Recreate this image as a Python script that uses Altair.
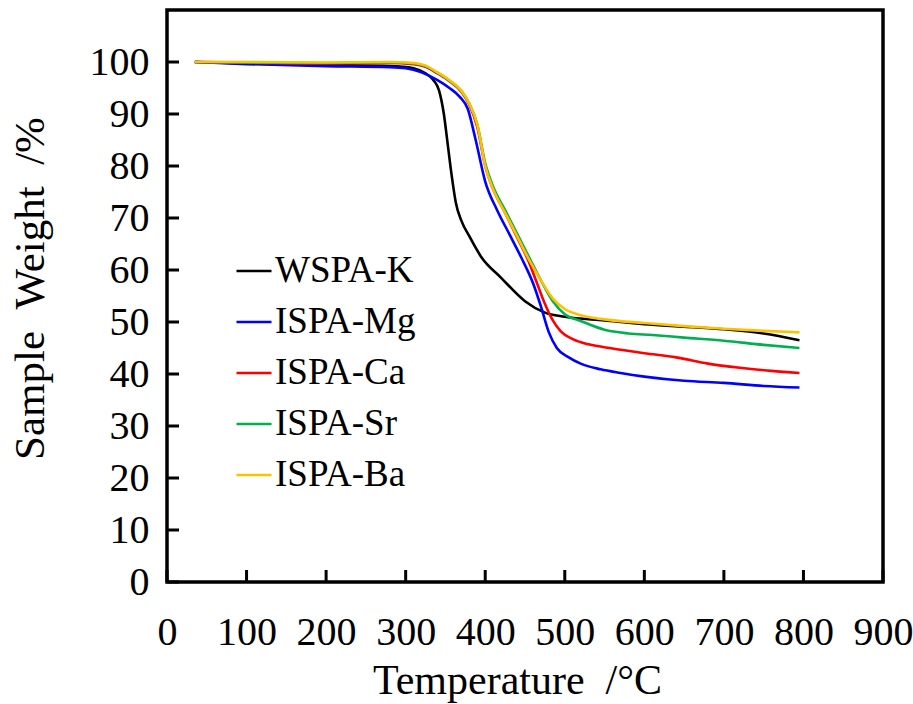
import altair as alt
import pandas as pd

series_names = ["WSPA-K", "ISPA-Mg", "ISPA-Ca", "ISPA-Sr", "ISPA-Ba"]
series_colors = ["#000000", "#0000FF", "#FF0000", "#00B050", "#FFC000"]

k_t = [35, 100, 200, 280, 310, 325, 335, 342, 348, 353, 358, 363, 370, 380, 395, 420, 450, 475, 500, 550, 600, 650, 700, 750, 795]
k_w = [100, 99.7, 99.4, 99.2, 98.8, 97.8, 96.5, 94.5, 90, 84, 78, 73, 69.5, 66.5, 62.5, 58.5, 54, 51.8, 51, 50.3, 49.6, 49.1, 48.6, 47.8, 46.5]

mg_t = [35, 100, 200, 280, 300, 320, 340, 355, 368, 378, 388, 400, 415, 430, 445, 460, 470, 480, 490, 505, 520, 545, 570, 600, 650, 700, 750, 795]
mg_w = [100, 99.6, 99.2, 99.0, 98.8, 98, 96.5, 95, 93.3, 91, 85, 77, 71.5, 67, 62.5, 57.5, 53, 48, 45, 43.2, 42, 40.9, 40.2, 39.5, 38.7, 38.3, 37.7, 37.4]

ca_t = [35, 100, 200, 280, 310, 325, 340, 355, 370, 380, 390, 400, 410, 425, 440, 455, 465, 475, 485, 495, 510, 530, 560, 600, 640, 680, 720, 760, 795]
ca_w = [100, 99.9, 99.7, 99.8, 99.6, 99.1, 97.8, 96.3, 94.3, 91.8, 87.5, 80, 75.5, 71, 66.3, 61.5, 57.5, 53.5, 50.3, 48.2, 46.7, 45.7, 44.9, 44, 43.2, 42, 41.2, 40.6, 40.2]

sr_t = [35, 100, 200, 280, 310, 325, 340, 355, 370, 380, 390, 400, 410, 425, 440, 455, 470, 485, 500, 520, 550, 580, 610, 650, 700, 750, 795]
sr_w = [100, 99.9, 99.8, 99.9, 99.7, 99.2, 97.9, 96.4, 94.4, 92, 88, 80.5, 76, 71.5, 67, 62.5, 58, 54, 51.5, 50.2, 48.5, 47.8, 47.5, 47, 46.4, 45.6, 45]

ba_t = [35, 100, 200, 280, 310, 325, 340, 355, 370, 380, 390, 400, 410, 425, 440, 455, 470, 485, 500, 520, 545, 600, 650, 700, 750, 795]
ba_w = [100, 100, 99.9, 100, 99.8, 99.3, 98, 96.5, 94.5, 92, 88, 80, 75.5, 71, 66.5, 62, 58, 54.5, 52.5, 51.3, 50.6, 49.8, 49.2, 48.7, 48.3, 48]

x_ticks = [0, 100, 200, 300, 400, 500, 600, 700, 800, 900]
y_ticks = [0, 10, 20, 30, 40, 50, 60, 70, 80, 90, 100]

rows = []
for name, ts, ws in [("WSPA-K", k_t, k_w), ("ISPA-Mg", mg_t, mg_w), ("ISPA-Ca", ca_t, ca_w),
                     ("ISPA-Sr", sr_t, sr_w), ("ISPA-Ba", ba_t, ba_w)]:
    for i, (t, w) in enumerate(zip(ts, ws)):
        rows.append({"series": name, "T": t, "W": w, "i": i})
df = pd.DataFrame(rows)

FONT = "Liberation Serif"
xscale = alt.Scale(domain=[0, 900], nice=False, zero=False)
yscale = alt.Scale(domain=[0, 110], nice=False, zero=False)

lines = alt.Chart(df).mark_line(strokeWidth=2.6, interpolate="monotone").encode(
    x=alt.X("T:Q", scale=xscale,
            axis=alt.Axis(values=x_ticks, domain=False, ticks=False, grid=False,
                          labelFont=FONT, labelFontSize=40, labelColor="black",
                          labelPadding=30, labelFlush=False,
                          title="Temperature\u00a0\u00a0/°C", titleFont=FONT, titleFontSize=42,
                          titleFontWeight="normal", titleColor="black",
                          titleBaseline="alphabetic", titleY=111, titleX=350)),
    y=alt.Y("W:Q", scale=yscale,
            axis=alt.Axis(values=y_ticks, domain=False, ticks=False, grid=False,
                          labelFont=FONT, labelFontSize=40, labelColor="black",
                          labelPadding=18, labelFlush=False,
                          title="Sample\u00a0\u00a0Weight\u00a0\u00a0/%", titleFont=FONT, titleFontSize=43,
                          titleFontWeight="normal", titleColor="black",
                          titleAngle=-90, titleBaseline="alphabetic", titleX=-124, titleY=278)),
    color=alt.Color("series:N",
                    scale=alt.Scale(domain=series_names, range=series_colors),
                    legend=alt.Legend(title=None, orient="none", legendX=68, legendY=242,
                                      symbolType="stroke", symbolSize=1225, symbolStrokeWidth=2.6,
                                      labelFont=FONT, labelFontSize=37, labelColor="black",
                                      labelOffset=2, rowPadding=14, labelLimit=400)),
    order="i:Q",
    detail="series:N",
)

ytick_df = pd.DataFrame({"v": y_ticks})
xtick_df = pd.DataFrame({"v": x_ticks})

yticks = alt.Chart(ytick_df).mark_rule(color="black", strokeWidth=3).encode(
    y=alt.Y("v:Q", scale=yscale), x=alt.value(0), x2=alt.value(12))
xticks = alt.Chart(xtick_df).mark_rule(color="black", strokeWidth=3).encode(
    x=alt.X("v:Q", scale=xscale), y=alt.value(572), y2=alt.value(560))

chart = alt.layer(yticks, xticks, lines).properties(
    width=716, height=572,
    padding={"left": 167, "top": 10, "right": 30, "bottom": 122},
    autosize=alt.AutoSizeParams(type="none"),
    background="white",
).configure_view(stroke="black", strokeWidth=3.5, strokeOpacity=1)

chart.save("out.html", embed_options={"renderer": "svg", "actions": False})
